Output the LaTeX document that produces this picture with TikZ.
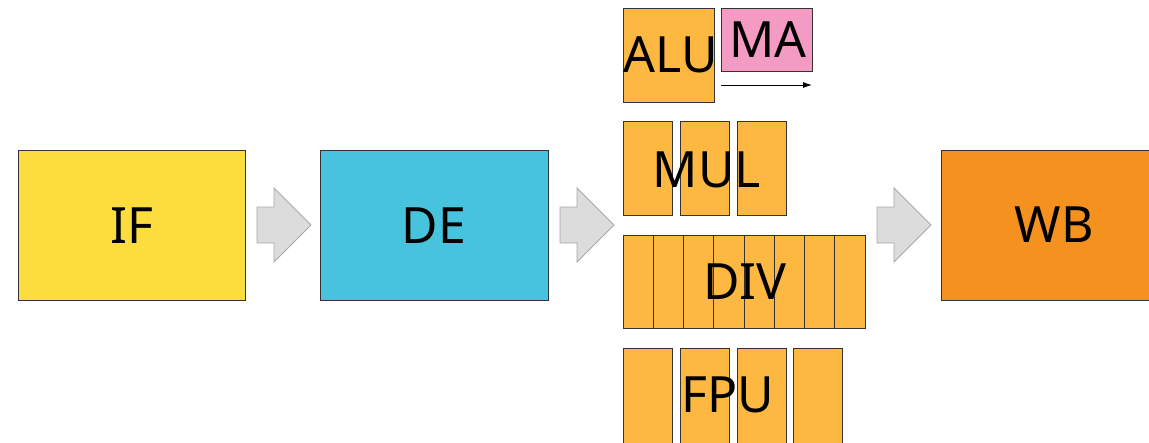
\documentclass[tikz,border=0pt]{standalone}
\usepackage{fontspec}
\setmainfont{Noto Sans}
\usetikzlibrary{arrows.meta}
\definecolor{ifc}{HTML}{FDDC3E}
\definecolor{dec}{HTML}{48C3DD}
\definecolor{wbc}{HTML}{F5921F}
\definecolor{unitc}{HTML}{FDB841}
\definecolor{mac}{HTML}{F49BC4}
\definecolor{arrf}{HTML}{DCDCDC}
\definecolor{arrd}{HTML}{A8A8A8}
\definecolor{edge}{HTML}{333333}
\tikzset{
  box/.style={draw=edge, line width=0.9pt, inner sep=0pt, outer sep=0pt},
  unit/.style={box, fill=unitc},
  lbl/.style={inner sep=0pt, font=\fontsize{50}{50}\selectfont},
  blockarrow/.style={fill=arrf, draw=arrd, line width=0.9pt}
}
\newcommand{\blockarrow}[2]{% #1 = left x, #2 = name
  \fill[blockarrow] (#1,207) -- (#1+17,207) -- (#1+17,188) -- (#1+54,225)
     -- (#1+17,262) -- (#1+17,243) -- (#1,243) -- cycle;
  \path (#1+27,225) coordinate (#2);
}
\begin{document}
\begin{tikzpicture}[x=1pt,y=-1pt]
\useasboundingbox (0,0) rectangle (1149,442);
\begin{scope}
\clip (0,0) rectangle (1149,442);
% stages
\node[box, fill=ifc, minimum width=227pt, minimum height=150pt, anchor=north west] (IF) at (18,150) {};
\node[box, fill=dec, minimum width=228pt, minimum height=150pt, anchor=north west] (DE) at (320,150) {};
\node[box, fill=wbc, minimum width=240pt, minimum height=150pt, anchor=north west] (WB) at (941,150) {};
\node[lbl] (IFt) at (132,226) {IF};
\node[lbl] (DEt) at (434,226) {DE};
\node[lbl] (WBt) at (1054,225) {WB};
% block arrows
\blockarrow{257}{a1}
\blockarrow{560}{a2}
\blockarrow{877}{a3}
% ALU + MA
\node[unit, minimum width=91pt, minimum height=94pt, anchor=north west] (ALU) at (623,8) {};
\node[box, fill=mac, minimum width=91pt, minimum height=63pt, anchor=north west] (MA) at (721,8) {};
\node[lbl] (ALUt) at (671,55) {ALU};
\node[lbl] (MAt) at (768,40) {MA};
\coordinate (maL) at (721,85);
\coordinate (maR) at (812,85);
\draw[-{Latex[length=9pt,width=6pt]}, line width=0.9pt] (maL) -- (maR);
% MUL
\foreach \i/\x in {1/623,2/680,3/737}
  \node[unit, minimum width=49pt, minimum height=94pt, anchor=north west] (mul\i) at (\x,121) {};
\node[lbl] (MULt) at (707,170) {MUL};
% DIV
\foreach \i in {0,...,7}
  \node[unit, minimum width=30.25pt, minimum height=93pt, anchor=north west] (div\i) at (623+\i*30.25,235) {};
\node[lbl] (DIVt) at (745,282) {DIV};
% FPU
\foreach \i/\x in {1/623,2/680,3/737,4/793}
  \node[unit, minimum width=49pt, minimum height=110pt, anchor=north west] (fpu\i) at (\x,348) {};
\node[lbl] (FPUt) at (728,395) {FPU};
\end{scope}
\end{tikzpicture}
\end{document}
